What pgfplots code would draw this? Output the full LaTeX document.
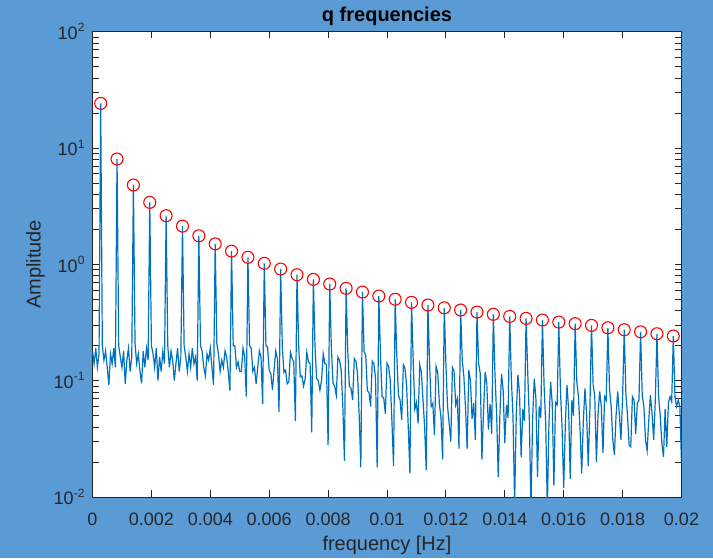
\documentclass[border=0pt]{standalone}
\usepackage{fontspec}
\setmainfont{Liberation Sans}
\usepackage{pgfplots}
\pgfplotsset{compat=1.18}
\definecolor{figbg}{RGB}{91,155,213}
\definecolor{axcol}{RGB}{38,38,38}
\definecolor{mblue}{RGB}{0,114,189}
\begin{document}
\begin{tikzpicture}
\fill[figbg] (-46.25pt,-30.5pt) rectangle (310.25pt,248.5pt);
\begin{axis}[
    at={(0,0)}, anchor=south west,
    scale only axis, width=294.5pt, height=232.65pt,
    ymode=log, xmin=0, xmax=0.02, ymin=0.01, ymax=100,
    axis background/.style={fill=white},
    axis line style={draw=axcol, line width=0.4pt},
    tick style={draw=axcol, line width=0.4pt},
    major tick length=3.3pt, minor tick length=3.3pt,
    tick align=inside,
    xtick={0,0.002,0.004,0.006,0.008,0.01,0.012,0.014,0.016,0.018,0.02},
    xticklabels={0,0.002,0.004,0.006,0.008,0.01,0.012,0.014,0.016,0.018,0.02},
    ytick={0.01,0.1,1,10,100},
    yticklabels={10\textsuperscript{-2},10\textsuperscript{-1},10\textsuperscript{0},10\textsuperscript{1},10\textsuperscript{2}},
    scaled x ticks=false,
    ticklabel style={font=\fontsize{9}{10}\selectfont, text=axcol},
    xticklabel style={yshift=-4.2pt},
    title={\textbf{q frequencies}},
    every axis title/.style={font=\fontsize{10}{12}\selectfont, inner sep=0pt, at={(axis description cs:0.5,1)}, anchor=center, yshift=7.6pt},
    xlabel={frequency [Hz]},
    every axis x label/.style={font=\fontsize{10}{12}\selectfont, inner sep=0pt, text=axcol, at={(axis description cs:0.5,0)}, anchor=center, yshift=-24.2pt},
    ylabel={Amplitude},
    every axis y label/.style={font=\fontsize{10}{12}\selectfont, inner sep=0pt, text=axcol, at={(axis description cs:0,0.5)}, xshift=-28.5pt, rotate=90, anchor=center},
]
\addplot[mblue, line width=0.6pt, mark=none] coordinates {
(0,0.18) (0.0000556,0.14) (0.0001111,0.19) (0.0001667,0.13) (0.0002222,0.17)
(0.0002778,24.2) (0.0003333,0.20) (0.0003889,0.15) (0.0004444,0.18) (0.0005,0.13) (0.0005556,0.092) (0.0006111,0.17) (0.0006667,0.14) (0.0007222,0.19) (0.0007778,0.13)
(0.0008333,8.04) (0.0008889,0.20) (0.0009444,0.16) (0.001,0.13) (0.0010556,0.18) (0.0011111,0.094) (0.0011667,0.15) (0.0012222,0.19) (0.0012778,0.12) (0.0013333,0.16)
(0.0013889,4.81) (0.0014444,0.21) (0.0015,0.14) (0.0015556,0.17) (0.0016111,0.12) (0.0016667,0.095) (0.0017222,0.18) (0.0017778,0.13) (0.0018333,0.19) (0.0018889,0.15)
(0.0019444,3.41) (0.002,0.20) (0.0020556,0.17) (0.0021111,0.13) (0.0021667,0.19) (0.0022222,0.10) (0.0022778,0.16) (0.0023333,0.12) (0.0023889,0.18) (0.0024444,0.14)
(0.0025,2.62) (0.0025556,0.20) (0.0026111,0.13) (0.0026667,0.18) (0.0027222,0.15) (0.0027778,0.10) (0.0028333,0.14) (0.0028889,0.19) (0.0029444,0.12) (0.003,0.16)
(0.0030556,2.13) (0.0031111,0.20) (0.0031667,0.16) (0.0032222,0.12) (0.0032778,0.17) (0.0033333,0.13) (0.0033889,0.19) (0.0034444,0.14) (0.0035,0.16) (0.0035556,0.10)
(0.0036111,1.76) (0.0036667,0.20) (0.0037222,0.18) (0.0037778,0.13) (0.0038333,0.11) (0.0038889,0.17) (0.0039444,0.15) (0.004,0.19) (0.0040556,0.13) (0.0041111,0.092)
(0.0041667,1.50) (0.0042222,0.21) (0.0042778,0.17) (0.0043333,0.12) (0.0043889,0.15) (0.0044444,0.13) (0.0045,0.18) (0.0045556,0.16) (0.0046111,0.12) (0.0046667,0.082)
(0.0047222,1.30) (0.0047778,0.20) (0.0048333,0.20) (0.0048889,0.13) (0.0049444,0.145) (0.005,0.12) (0.0050556,0.12) (0.0051111,0.19) (0.0051667,0.16) (0.0052222,0.073)
(0.0052778,1.15) (0.0053333,0.20) (0.0053889,0.19) (0.0054444,0.12) (0.0055,0.13) (0.0055556,0.094) (0.0056111,0.13) (0.0056667,0.18) (0.0057222,0.16) (0.0057778,0.063)
(0.0058333,1.02) (0.0058889,0.20) (0.0059444,0.195) (0.006,0.123) (0.0060556,0.115) (0.0061111,0.083) (0.0061667,0.125) (0.0062222,0.18) (0.0062778,0.155) (0.0063333,0.054)
(0.0063889,0.911) (0.0064444,0.20) (0.0065,0.118) (0.0065556,0.123) (0.0066111,0.094) (0.0066667,0.098) (0.0067222,0.175) (0.0067778,0.155) (0.0068333,0.145) (0.0068889,0.045)
(0.0069444,0.814) (0.007,0.20) (0.0070556,0.108) (0.0071111,0.11) (0.0071667,0.09) (0.0072222,0.104) (0.0072778,0.175) (0.0073333,0.145) (0.0073889,0.14) (0.0074444,0.036)
(0.0075,0.743) (0.0075556,0.195) (0.0076111,0.104) (0.0076667,0.10) (0.0077222,0.083) (0.0077778,0.10) (0.0078333,0.17) (0.0078889,0.141) (0.0079444,0.137) (0.008,0.028)
(0.0080556,0.677) (0.0081111,0.19) (0.0081667,0.095) (0.0082222,0.09) (0.0082778,0.075) (0.0083333,0.16) (0.0083889,0.15) (0.0084444,0.123) (0.0085,0.06) (0.0085556,0.0205)
(0.0086111,0.622) (0.0086667,0.183) (0.0087222,0.09) (0.0087778,0.086) (0.0088333,0.068) (0.0088889,0.155) (0.0089444,0.147) (0.009,0.115) (0.0090556,0.05) (0.0091111,0.018)
(0.0091667,0.578) (0.0092222,0.178) (0.0092778,0.165) (0.0093333,0.082) (0.0093889,0.079) (0.0094444,0.06) (0.0095,0.147) (0.0095556,0.14) (0.0096111,0.105) (0.0096667,0.018)
(0.0097222,0.534) (0.0097778,0.167) (0.0098333,0.073) (0.0098889,0.071) (0.0099444,0.052) (0.01,0.141) (0.0100556,0.132) (0.0101111,0.10) (0.0101667,0.045) (0.0102222,0.0185)
(0.0102778,0.501) (0.0103333,0.161) (0.0103889,0.075) (0.0104444,0.068) (0.0105,0.046) (0.0105556,0.137) (0.0106111,0.128) (0.0106667,0.09) (0.0107222,0.04) (0.0107778,0.016)
(0.0108333,0.471) (0.0108889,0.151) (0.0109444,0.057) (0.011,0.065) (0.0110556,0.043) (0.0111111,0.137) (0.0111667,0.118) (0.0112222,0.068) (0.0112778,0.04) (0.0113333,0.017)
(0.0113889,0.447) (0.0114444,0.146) (0.0115,0.06) (0.0115556,0.064) (0.0116111,0.034) (0.0116667,0.133) (0.0117222,0.118) (0.0117778,0.064) (0.0118333,0.048) (0.0118889,0.021)
(0.0119444,0.423) (0.012,0.141) (0.0120556,0.06) (0.0121111,0.043) (0.0121667,0.030) (0.0122222,0.13) (0.0122778,0.12) (0.0123333,0.062) (0.0123889,0.07) (0.0124444,0.026)
(0.0125,0.405) (0.0125556,0.15) (0.0126111,0.108) (0.0126667,0.058) (0.0127222,0.026) (0.0127778,0.123) (0.0128333,0.1) (0.0128889,0.047) (0.0129444,0.064) (0.013,0.031)
(0.0130556,0.389) (0.0131111,0.141) (0.0131667,0.115) (0.0132222,0.021) (0.0132778,0.054) (0.0133333,0.119) (0.0133889,0.095) (0.0134444,0.038) (0.0135,0.063) (0.0135556,0.035)
(0.0136111,0.372) (0.0136667,0.112) (0.0137222,0.052) (0.0137778,0.0148) (0.0138333,0.051) (0.0138889,0.115) (0.0139444,0.083) (0.014,0.029) (0.0140556,0.062) (0.0141111,0.048)
(0.0141667,0.357) (0.0142222,0.104) (0.0142778,0.05) (0.0143333,0.0087) (0.0143889,0.05) (0.0144444,0.112) (0.0145,0.078) (0.0145556,0.022) (0.0146111,0.057) (0.0146667,0.045)
(0.0147222,0.343) (0.0147778,0.119) (0.0148333,0.046) (0.0148889,0.008) (0.0149444,0.046) (0.015,0.104) (0.0150556,0.071) (0.0151111,0.0148) (0.0151667,0.06) (0.0152222,0.048)
(0.0152778,0.332) (0.0153333,0.092) (0.0153889,0.043) (0.0154444,0.008) (0.0155,0.043) (0.0155556,0.098) (0.0156111,0.064) (0.0156667,0.0125) (0.0157222,0.065) (0.0157778,0.062)
(0.0158333,0.319) (0.0158889,0.083) (0.0159444,0.04) (0.016,0.012) (0.0160556,0.042) (0.0161111,0.092) (0.0161667,0.057) (0.0162222,0.0143) (0.0162778,0.068) (0.0163333,0.05)
(0.0163889,0.309) (0.0164444,0.098) (0.0165,0.073) (0.0165556,0.038) (0.0166111,0.016) (0.0166667,0.045) (0.0167222,0.086) (0.0167778,0.052) (0.0168333,0.0185) (0.0168889,0.056)
(0.0169444,0.299) (0.017,0.092) (0.0170556,0.073) (0.0171111,0.020) (0.0171667,0.052) (0.0172222,0.081) (0.0172778,0.06) (0.0173333,0.024) (0.0173889,0.073) (0.0174444,0.068)
(0.0175,0.285) (0.0175556,0.086) (0.0176111,0.06) (0.0176667,0.031) (0.0177222,0.023) (0.0177778,0.05) (0.0178333,0.081) (0.0178889,0.052) (0.0179444,0.031) (0.018,0.073)
(0.0180556,0.274) (0.0181111,0.078) (0.0181667,0.05) (0.0182222,0.028) (0.0182778,0.027) (0.0183333,0.073) (0.0183889,0.068) (0.0184444,0.035) (0.0185,0.064) (0.0185556,0.068)
(0.0186111,0.263) (0.0186667,0.075) (0.0187222,0.06) (0.0187778,0.031) (0.0188333,0.025) (0.0188889,0.046) (0.0189444,0.075) (0.019,0.052) (0.0190556,0.031) (0.0191111,0.068)
(0.0191667,0.253) (0.0192222,0.073) (0.0192778,0.05) (0.0193333,0.029) (0.0193889,0.022) (0.0194444,0.057) (0.0195,0.027) (0.0195556,0.064) (0.0196111,0.073) (0.0196667,0.066)
(0.0197222,0.242) (0.0197778,0.073) (0.0198333,0.06) (0.0198889,0.068) (0.0199444,0.06) (0.02,0.0197)
};
\addplot[red, only marks, mark=o, mark size=3pt, mark options={line width=0.55pt}] coordinates {
(0.0002778,24.2) (0.0008333,8.04) (0.0013889,4.81) (0.0019444,3.41) (0.0025,2.62) (0.0030556,2.13)
(0.0036111,1.76) (0.0041667,1.50) (0.0047222,1.30) (0.0052778,1.15) (0.0058333,1.02) (0.0063889,0.911)
(0.0069444,0.814) (0.0075,0.743) (0.0080556,0.677) (0.0086111,0.622) (0.0091667,0.578) (0.0097222,0.534)
(0.0102778,0.501) (0.0108333,0.471) (0.0113889,0.447) (0.0119444,0.423) (0.0125,0.405) (0.0130556,0.389)
(0.0136111,0.372) (0.0141667,0.357) (0.0147222,0.343) (0.0152778,0.332) (0.0158333,0.319) (0.0163889,0.309)
(0.0169444,0.299) (0.0175,0.285) (0.0180556,0.274) (0.0186111,0.263) (0.0191667,0.253) (0.0197222,0.242)
};
\end{axis}
\end{tikzpicture}
\end{document}
